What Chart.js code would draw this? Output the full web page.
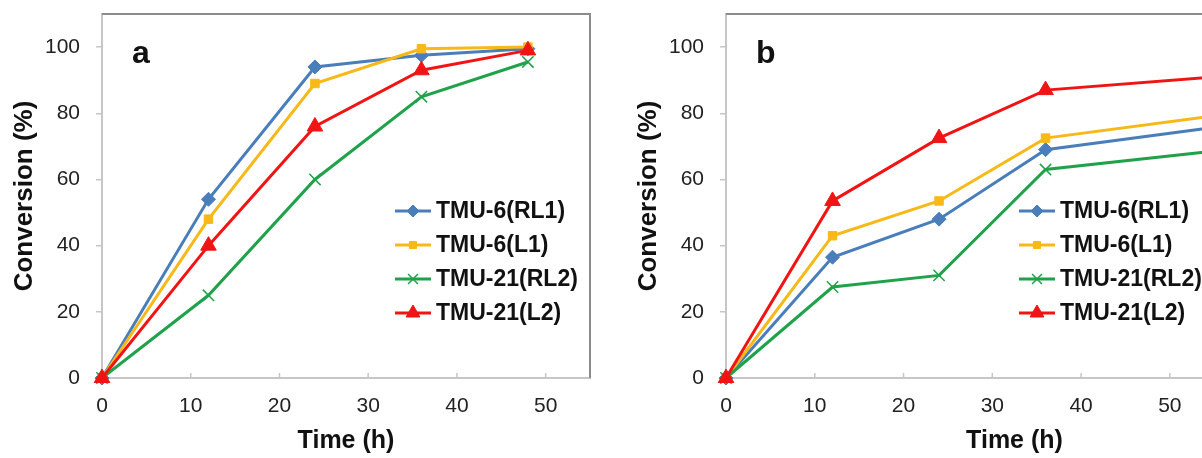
<!DOCTYPE html>
<html>
<head>
<meta charset="utf-8">
<script src="https://cdn.jsdelivr.net/npm/chart.js@4.4.1/dist/chart.umd.min.js"></script>
<style>
  html, body { margin: 0; padding: 0; background: #fff; }
  body { width: 1202px; height: 458px; overflow: hidden; position: relative; }
  .panel { position: absolute; top: 0; }
</style>
</head>
<body>
<div class="panel" style="left:0"><canvas id="chartA" width="600" height="458"></canvas></div>
<div class="panel" style="left:624px"><canvas id="chartB" width="689" height="458"></canvas></div>
<script>
const seriesNames = ['TMU-6(RL1)', 'TMU-6(L1)', 'TMU-21(RL2)', 'TMU-21(L2)'];

// panel a
const timeA = [0, 12, 24, 36, 48];
const rl1A = [0, 54, 94, 97.5, 99.5];
const l1A = [0, 48, 89, 99.5, 100];
const rl2A = [0, 25, 60, 85, 95.5];
const l2A = [0, 40, 76, 93, 99];

// panel b (last point is off the picture, estimated from the slope)
const timeB = [0, 12, 24, 36, 60];
const rl1B = [0, 36.5, 48, 69, 77.5];
const l1B = [0, 43, 53.5, 72.5, 81];
const rl2B = [0, 27.5, 31, 63, 70];
const l2B = [0, 53.5, 72.5, 87, 92];

const yTicks = [0, 20, 40, 60, 80, 100];

const FONT = '"Liberation Sans", Arial, sans-serif';
const styles = [
  {color: '#4a7ebb', pointStyle: 'rectRot', radius: 7, order: 4},
  {color: '#f7b918', pointStyle: 'rect', radius: 6, order: 3},
  {color: '#1fa24a', pointStyle: 'crossRot', radius: 8, order: 2},
  {color: '#f01414', pointStyle: 'triangle', radius: 9, order: 1},
];

function makeDatasets(times, lists) {
  return lists.map((vals, i) => ({
    label: seriesNames[i],
    data: vals.map((v, j) => ({x: times[j], y: v})),
    borderColor: styles[i].color,
    backgroundColor: styles[i].color,
    pointBorderColor: styles[i].color,
    pointBackgroundColor: styles[i].color,
    pointStyle: styles[i].pointStyle,
    pointRadius: styles[i].radius,
    pointBorderWidth: styles[i].pointStyle === 'crossRot' ? 1.5 : 1,
    borderWidth: 3,
    tension: 0,
    clip: false,
    order: styles[i].order,
  }));
}

// frame, inward x ticks, panel letter and legend inside plot
const decor = {
  id: 'decor',
  beforeDatasetsDraw(chart, args, opts) {
    const {ctx, chartArea: ca, scales} = chart;
    ctx.save();
    ctx.strokeStyle = '#c6c6c6';
    ctx.lineWidth = 1.5;
    scales.x.ticks.forEach(t => {
      const px = scales.x.getPixelForValue(t.value);
      if (t.value === 0) return;
      ctx.beginPath();
      ctx.moveTo(px, ca.bottom);
      ctx.lineTo(px, ca.bottom - 5);
      ctx.stroke();
    });
    ctx.strokeStyle = '#8c8c8c';
    ctx.lineWidth = 2;
    ctx.beginPath();
    ctx.moveTo(ca.left, ca.top);
    ctx.lineTo(ca.right, ca.top);
    ctx.lineTo(ca.right, ca.bottom);
    ctx.stroke();
    ctx.fillStyle = '#111';
    ctx.font = 'bold 32px ' + FONT;
    ctx.textBaseline = 'alphabetic';
    ctx.fillText(opts.letter, opts.letterX, 63);
    ctx.restore();
  },
  afterDraw(chart, args, opts) {
    const {ctx} = chart;
    ctx.save();
    chart.data.datasets.forEach((ds, i) => {
      const y = opts.y0 + i * opts.gap;
      const x = opts.x;
      ctx.strokeStyle = ds.borderColor;
      ctx.lineWidth = 3;
      ctx.beginPath();
      ctx.moveTo(x, y);
      ctx.lineTo(x + 36, y);
      ctx.stroke();
      ctx.fillStyle = ds.pointBackgroundColor;
      ctx.strokeStyle = ds.pointBorderColor;
      ctx.lineWidth = ds.pointBorderWidth;
      Chart.helpers.drawPoint(ctx, {
        pointStyle: ds.pointStyle, radius: ds.pointRadius - 1, rotation: 0, borderWidth: ds.pointBorderWidth
      }, x + 18, y);
      ctx.fillStyle = '#111';
      ctx.font = 'bold 23px ' + FONT;
      ctx.textBaseline = 'middle';
      ctx.textAlign = 'left';
      ctx.fillText(ds.label, x + 41, y + 1);
    });
    ctx.restore();
  }
};

function makeChart(id, times, lists, xMax, letter, letterX) {
  return new Chart(document.getElementById(id), {
    type: 'line',
    data: {datasets: makeDatasets(times, lists)},
    plugins: [decor],
    options: {
      responsive: false,
      animation: false,
      layout: {padding: {top: 14, right: 10, left: 0, bottom: 0}},
      plugins: {
        legend: {display: false},
        tooltip: {enabled: false},
        decor: {letter: letter, letterX: letterX, x: 395, y0: 211, gap: 34},
      },
      scales: {
        x: {
          type: 'linear',
          min: 0, max: xMax,
          afterFit(scale) {
            scale.height = 80;
            scale.paddingLeft = 0; scale.paddingRight = 0;
          },
          afterBuildTicks(scale) {
            scale.ticks = [];
            for (let v = 0; v <= xMax; v += 10) scale.ticks.push({value: v});
          },
          grid: {display: true, drawOnChartArea: false, drawTicks: false},
          border: {display: true, color: '#c6c6c6', width: 2},
          ticks: {color: '#222', padding: 16, font: {family: FONT, size: 21}},
          title: {display: true, text: 'Time (h)', color: '#111', padding: {top: 0, bottom: 2},
                  font: {family: FONT, size: 25, weight: 'bold'}},
        },
        y: {
          min: 0, max: 110,
          afterFit(scale) {
            scale.width = 102;
            scale.paddingTop = 0; scale.paddingBottom = 0;
          },
          afterBuildTicks(scale) { scale.ticks = yTicks.map(v => ({value: v})); },
          grid: {display: true, drawOnChartArea: false, drawTicks: true, tickLength: 6, color: '#c6c6c6', lineWidth: 1.5},
          border: {display: true, color: '#c6c6c6', width: 2},
          ticks: {color: '#222', padding: 16, font: {family: FONT, size: 21}},
          title: {display: true, text: 'Conversion (%)', color: '#111', padding: {top: 9, bottom: 0},
                  font: {family: FONT, size: 26, weight: 'bold'}},
        }
      }
    }
  });
}

makeChart('chartA', timeA, [rl1A, l1A, rl2A, l2A], 55, 'a', 132);
makeChart('chartB', timeB, [rl1B, l1B, rl2B, l2B], 65, 'b', 132);
</script>
</body>
</html>
